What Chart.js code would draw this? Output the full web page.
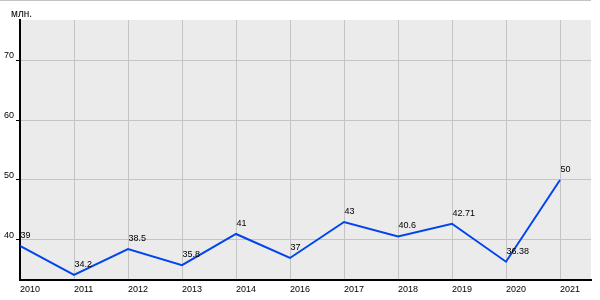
<!DOCTYPE html>
<html>
<head>
<meta charset="utf-8">
<script src="https://cdn.jsdelivr.net/npm/chart.js@4"></script>
<style>
    html, body { margin: 0; padding: 0; background: #fff; }
    #wrap { width: 600px; height: 300px; }
</style>
</head>
<body>
<div id="wrap"><canvas id="chart" width="600" height="300"></canvas></div>
<script>
// ===========================
// Data
// ===========================
const years = ['2010', '2011', '2012', '2013', '2014', '2016', '2017', '2018', '2019', '2020', '2021'];
const values = [39, 34.2, 38.5, 35.8, 41, 37, 43, 40.6, 42.71, 36.38, 50];
const valueLabels = ['39', '34.2', '38.5', '35.8', '41', '37', '43', '40.6', '42.71', '36.38', '50'];
const yTicks = [40, 50, 60, 70];
const unitLabel = 'млн.';

const FONT = 'Arial, "Liberation Sans", sans-serif';

// plot background, top rule, unit caption and value labels
const decorPlugin = {
    id: 'decor',
    beforeDraw(chart) {
        const { ctx, chartArea: a } = chart;
        ctx.save();
        ctx.fillStyle = '#ebebeb';
        ctx.fillRect(a.left, a.top, a.right - a.left, a.bottom - a.top);
        ctx.fillStyle = '#c4c4c4';
        ctx.fillRect(0, 0, a.right, 1);
        ctx.fillStyle = '#000';
        ctx.font = '10px ' + FONT;
        ctx.textBaseline = 'alphabetic';
        ctx.fillText(unitLabel, 11, 17);
        ctx.restore();
    },
    afterDatasetsDraw(chart) {
        const { ctx } = chart;
        const meta = chart.getDatasetMeta(0);
        ctx.save();
        ctx.fillStyle = '#000';
        ctx.font = '9px ' + FONT;
        ctx.textAlign = 'left';
        ctx.textBaseline = 'alphabetic';
        meta.data.forEach((pt, i) => {
            ctx.fillText(valueLabels[i], pt.x + 0.5, pt.y - 8);
        });
        ctx.restore();
    }
};

const ctx = document.getElementById('chart').getContext('2d');
const chart = new Chart(ctx, {
    type: 'line',
    data: {
        datasets: [{
            data: values.map((v, i) => ({ x: i, y: v })),
            borderColor: '#0044ee',
            borderWidth: 2,
            pointRadius: 0,
            tension: 0,
            fill: false
        }]
    },
    options: {
        responsive: false,
        animation: false,
        layout: { padding: { top: 20, right: 9, left: 0, bottom: 0 } },
        plugins: {
            legend: { display: false },
            tooltip: { enabled: false }
        },
        scales: {
            x: {
                type: 'linear',
                min: 0,
                max: 10.574,
                afterBuildTicks: (scale) => {
                    scale.ticks = years.map((_, i) => ({ value: i }));
                },
                afterFit: (scale) => { scale.height = 20; },
                ticks: {
                    align: 'start',
                    padding: 4,
                    color: '#000',
                    font: { family: FONT, size: 9 },
                    maxRotation: 0,
                    autoSkip: false,
                    callback: (v) => years[v]
                },
                grid: {
                    color: '#c4c4c4',
                    lineWidth: 1,
                    drawTicks: false
                },
                border: { color: '#000', width: 2 }
            },
            y: {
                min: 33.33,
                max: 76.67,
                afterBuildTicks: (scale) => {
                    scale.ticks = yTicks.map(v => ({ value: v }));
                },
                afterFit: (scale) => { scale.width = 20; },
                ticks: {
                    padding: 2,
                    labelOffset: -4,
                    color: '#000',
                    font: { family: FONT, size: 9 }
                },
                grid: {
                    color: '#c4c4c4',
                    lineWidth: 1,
                    tickLength: 4,
                    tickColor: '#000'
                },
                border: { color: '#000', width: 2 }
            }
        }
    },
    plugins: [decorPlugin]
});
</script>
</body>
</html>
